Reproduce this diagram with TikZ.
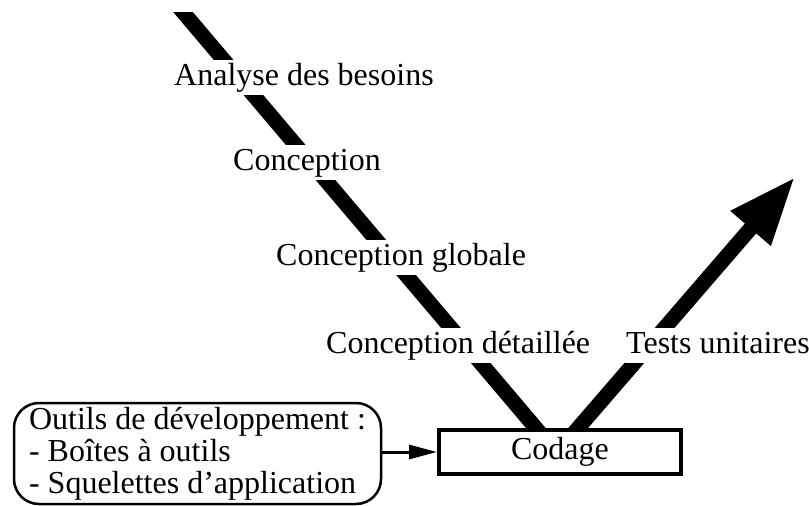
\documentclass[tikz,border=0pt]{standalone}
\usepackage{fontspec}
\setmainfont{Liberation Serif}[Ligatures=ResetAll]
\usetikzlibrary{arrows.meta}
\tikzset{
  lbl/.style={fill=white, inner xsep=1pt, inner ysep=2pt, text height=23pt, text depth=8pt, anchor=base west, font=\fontsize{32}{32}\selectfont},
  vline/.style={line width=15pt, line cap=butt},
  codebox/.style={draw, line width=4pt, fill=white, minimum width=242pt, minimum height=44pt, inner sep=0pt, font=\fontsize{32}{32}\selectfont},
  toolbox/.style={draw, line width=2.5pt, rounded corners=25pt, fill=white, minimum width=367pt, minimum height=101pt, align=left, inner sep=0pt, font=\fontsize{32}{32}\selectfont},
  thinarrow/.style={line width=3pt, -{Triangle[length=28pt,width=14pt]}}
}
\begin{document}
\begin{tikzpicture}[x=1pt,y=-1pt]
\useasboundingbox (0,0) rectangle (809,506);
\coordinate (lt) at (172.8,0);
\coordinate (lb) at (546,440);
\coordinate (rb) at (567.8,440);
\coordinate (rt) at (795,177);
\begin{scope}
\clip (0,12) rectangle (809,506);
\draw[vline] (lt) -- (lb);
\end{scope}
\draw[vline, -{Triangle[length=68pt,width=49pt]}] (rb) -- (rt);
\node[codebox] (cod) at (560,452) {Codage};
\node[toolbox] (tools) at (197.5,453.5) {Outils de développement :\\- Boîtes à outils\\- Squelettes d'application};
\draw[thinarrow] (tools.east |- cod.west) -- (cod.west);
\node[lbl] (l1) at (173,85) {Analyse des besoins};
\node[lbl] (l2) at (232,170) {Conception};
\node[lbl] (l3) at (275,265) {Conception globale};
\node[lbl] (l4) at (325,353) {Conception détaillée};
\node[lbl] (l5) at (625,353) {Tests unitaires};
\end{tikzpicture}
\end{document}
